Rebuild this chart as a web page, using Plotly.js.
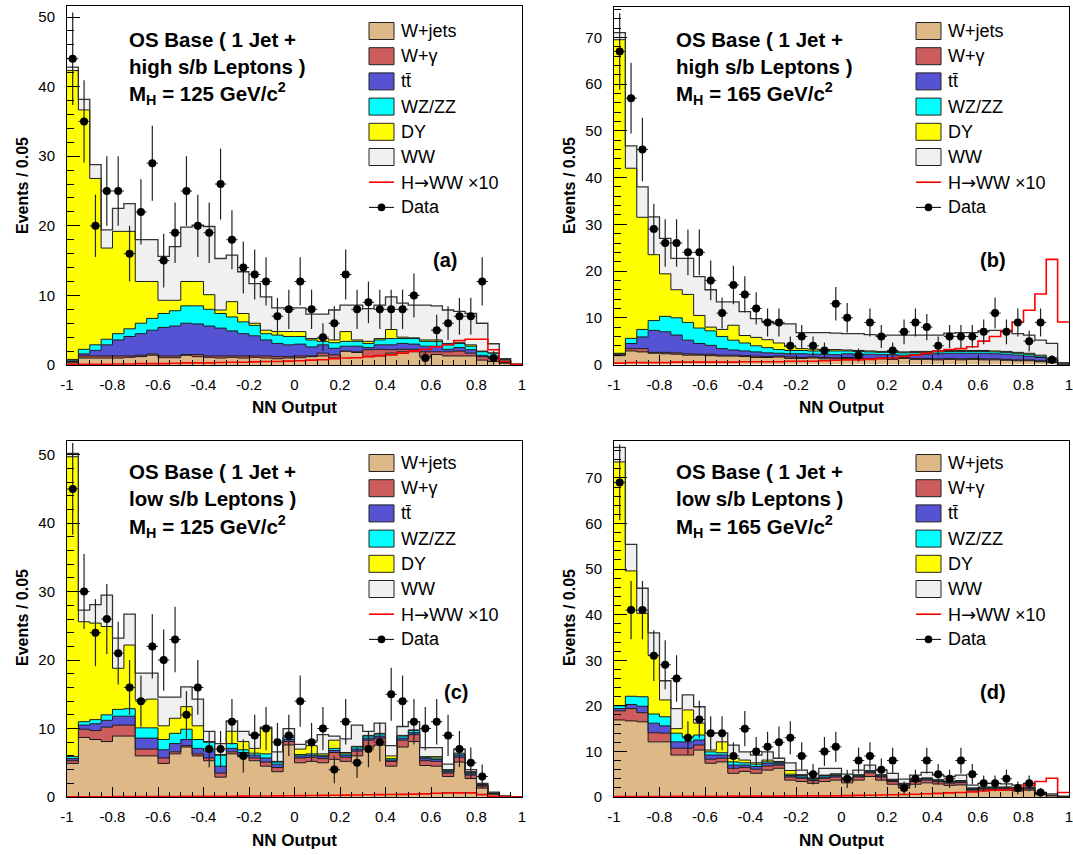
<!DOCTYPE html>
<html>
<head>
<meta charset="utf-8">
<script src="https://cdn.plot.ly/plotly-3.0.1.min.js"></script>
<style>
  html, body { margin: 0; padding: 0; background: #fff; }
  #chart { width: 1073px; height: 855px; }
</style>
</head>
<body>
<div id="chart"></div>
<script>
// NN output binning: 40 bins of width 0.05 on [-1, 1]
const nBins = 40;
const xLo = -1;
const binW = 0.05;

const xTickVals = [-1, -0.8, -0.6, -0.4, -0.2, 0, 0.2, 0.4, 0.6, 0.8, 1];
const xTickText = ['-1', '-0.8', '-0.6', '-0.4', '-0.2', '0', '0.2', '0.4', '0.6', '0.8', '1'];
const yTickVals50 = [0, 10, 20, 30, 40, 50];
const yTickVals70 = [0, 10, 20, 30, 40, 50, 60, 70];

const processNames = ['W+jets', 'W+\u03b3', 't<span>t\u0304</span>', 'WZ/ZZ', 'DY', 'WW'];
const processColors = ['#deb887', '#cd5c5c', '#5652d4', '#00ffff', '#ffff00', '#f0f0f0'];
const signalName = 'H<span style="font-family:DejaVu Sans">\u2192</span>WW \u00d710';
const dataName = 'Data';

// (a) 1 jet, high s/b leptons, MH = 125
const wjetsA  = [0.3,1.0,1.0,1.0,1.0,1.1,1.2,1.4,1.05,1.05, 1.4,1.2,1.1,1.0,1.1,1.0,1.1,1.0,0.9,1.0, 1.05,1.2,1.3,1.0,2.0,1.8,1.2,1.3,1.7,1.9, 1.9,1.2,1.5,1.3,1.3,1.3,0.7,0.5,0.25,0];
const wgammaA = [0.2,0.3,0.3,0.3,0.3,0.2,0.2,0.2,0.25,0.25, 0.1,0.3,0.2,0.3,0.2,0.3,0.2,0.3,0.3,0.2, 0.25,0.1,0.4,0.45,0,0.1,1.0,0.95,0.5,0.35, 0.35,0.7,0.4,0.6,0.7,0.4,0.5,0.5,0.1,0];
const ttbarA  = [0.1,0.3,0.8,1.6,2.3,2.8,3.1,3.4,4.1,4.3, 4.5,4.4,4.3,4.0,3.6,3.2,2.9,2.3,1.9,1.7, 1.7,1.3,1.2,0.95,0.7,0.8,0.3,0.65,0.7,0.85, 0.75,0.8,0.8,0.35,0.5,0.5,0.2,0.2,0.15,0];
const wzzzA   = [0.2,0.65,0.8,0.8,0.9,1.1,1.5,1.7,2.0,2.2, 2.5,2.6,2.4,2.1,2.0,1.7,1.5,0.9,1.2,1.2, 1.1,1.0,0.5,0.8,0.7,0.7,0.6,0.7,0.9,0.7, 0.8,0.7,0.7,0.65,0.6,0.5,0.5,0.5,0.2,0];
const dyA     = [41.5,34.4,23.9,13.1,14.7,14.0,6.0,5.3,1.9,1.5, 3.5,3.5,2.1,0.5,2.2,1.2,0.3,0.5,0.5,0.7, 0.7,0.2,0.4,0.4,1.4,0.2,0.3,0.2,1.3,0.2, 0.1,0.2,0.2,0.2,0.1,0.2,0.1,0.05,0.1,0];
const wwA     = [0.5,1.5,2.0,2.6,3.3,4.0,6.0,6.0,6.3,7.7, 7.8,8.1,9.8,7.4,6.7,6.0,5.7,4.8,3.4,3.4, 3.4,3.5,3.5,4.3,3.8,5.0,4.7,4.8,4.7,4.9, 4.7,5.0,4.9,4.8,4.5,4.5,4.0,1.3,0.1,0.15];
const signalA = [0.1,0.1,0.1,0.1,0.15,0.15,0.2,0.2,0.2,0.25, 0.3,0.3,0.3,0.35,0.4,0.4,0.45,0.5,0.5,0.55, 0.6,0.7,0.75,0.9,1.0,1.05,1.2,1.35,1.45,1.7, 2.0,2.25,2.6,2.9,3.5,3.7,3.7,2.2,0.5,0.05];
const dataA   = [44,35,20,25,25,16,22,29,15,19, 25,20,19,26,18,14,13,12,7,8, 12,8,4,6,13,8,9,8,8,8, 10,1,5,6,7,7,12,1,0,0];

// (b) 1 jet, high s/b leptons, MH = 165
const wjetsB  = [1.9,2.9,2.7,2.4,2.3,2.2,2.0,2.0,1.9,1.8, 1.8,1.7,1.5,1.5,1.6,1.3,1.3,1.4,1.2,1.2, 1.3,1.2,1.1,1.2,1.1,1.3,1.1,1.1,1.0,1.1, 1.0,1.1,1.0,1.0,0.9,0.8,0.8,0.6,0.4,0.05];
const wgammaB = [0.3,0.5,0.7,0.2,0.3,0.3,0.3,0.2,0.3,0.2, 0.2,0.2,0.3,0.2,0.2,0.3,0.2,0.2,0.3,0.2, 0.2,0.2,0.2,0.2,0.2,0.2,0.2,0.2,0.2,0.2, 0.2,0.2,0.2,0.2,0.2,0.2,0.2,0.2,0.1,0];
const ttbarB  = [0.1,1.1,2.5,4.7,4.4,3.8,2.9,2.3,1.9,1.4, 1.1,1.0,0.9,0.8,0.6,0.7,0.8,0.6,0.7,0.7, 0.8,0.8,0.9,0.7,0.8,0.5,0.9,0.9,1.1,1.1, 1.2,1.1,1.2,1.1,1.1,1.0,0.8,0.7,0.5,0.05];
const wzzzB   = [0.1,1.1,1.6,2.1,3.3,3.7,3.8,3.3,3.1,2.6, 2.1,1.7,1.3,1.1,0.8,0.7,0.7,0.7,0.7,0.8, 0.6,0.6,0.5,0.5,0.5,0.5,0.4,0.4,0.4,0.4, 0.4,0.4,0.4,0.4,0.4,0.4,0.4,0.3,0.2,0];
const dyB     = [67.1,36.4,24.0,14.1,9.1,6.0,6.0,2.7,0.8,1.5, 3.2,1.6,1.8,1.7,1.4,0.8,0.4,0.4,0.3,0.3, 0.2,0.2,0.2,0.2,0.2,0.2,0.2,0.2,0.2,0.2, 0.2,0.2,0.2,0.2,0.2,0.2,0.2,0.2,0.2,0.05];
const wwB     = [1.5,4.8,6.5,8.1,7.6,6.7,7.7,8.3,8.0,5.9, 5.0,5.1,4.0,3.9,4.1,4.9,3.4,3.5,3.6,3.5, 3.5,3.6,3.5,3.5,3.5,3.6,3.5,3.5,3.4,3.7, 3.8,3.8,4.2,4.4,4.5,4.0,3.9,3.2,3.1,0.25];
const signalB = [0.3,0.4,0.4,0.4,0.4,0.5,0.5,0.5,0.5,0.5, 0.5,0.6,0.6,0.6,0.6,0.7,0.7,0.7,0.8,0.9, 1.0,1.0,1.1,1.3,1.4,1.7,2.0,2.4,2.9,3.2, 3.4,3.8,5.0,6.0,7.2,9.1,11.6,15.1,22.5,9.1];
const dataB   = [67,57,46,29,26,26,24,24,18,11, 17,15,12,9,9,4,6,4,3,13, 10,2,9,6,3,7,9,8,4,6, 6,6,7,11,7,9,5,9,1,0];

// (c) 1 jet, low s/b leptons, MH = 125
const wjetsC  = [4.9,8.7,8.4,8.1,8.9,8.9,6.0,6.0,4.9,6.3, 7.3,6.0,5.3,2.9,6.3,5.9,5.3,4.5,3.7,7.6, 5.0,5.2,5.0,5.5,5.2,6.0,7.3,7.6,4.5,7.3, 8.1,4.6,4.5,3.0,5.1,2.7,1.3,0.4,0,0];
const wgammaC = [0.4,1.2,1.3,2.1,1.6,1.6,1.0,1.0,0.8,0.3, 0.2,0.3,0.4,0.6,0.3,0.2,0.4,0.6,0.6,0.5, 0.7,0.6,0.6,1.0,0.6,0.7,1.0,1.0,0.7,1.0, 1.0,0.7,0.7,0.5,0.7,0.5,0.3,0.1,0.05,0];
const ttbarC  = [0.3,0.6,1.0,1.0,1.3,1.3,1.6,1.6,1.2,1.2, 0.9,0.8,1.0,1.0,0.5,0.4,0.4,0.6,0.5,0.3, 0.3,0.3,0.3,0.3,0.3,0.3,0.3,0.3,0.2,0.3, 0.3,0.3,0.3,0.2,0.3,0.2,0.1,0.05,0.02,0];
const wzzzC   = [0.3,0.5,0.6,0.8,1.0,1.1,1.5,1.5,1.5,1.5, 1.5,1.3,1.3,1.6,0.7,0.4,0.3,0.6,0.3,0.3, 0.2,0.2,0.2,0.3,0.2,0.3,0.3,0.3,0.2,0.3, 0.3,0.2,0.2,0.2,0.2,0.2,0.1,0.05,0.02,0];
const dyC     = [43.8,14.6,14.1,12.9,6.0,9.3,4.1,4.2,2.0,2.2, 3.3,2.0,0.1,0.1,1.8,1.2,0.7,3.8,0.1,0.1, 0.8,1.2,0.2,1.2,0.2,0.1,0.1,0.1,0.4,0.1, 0.1,0.1,0.2,0.1,0.1,0.1,0.05,0,0,0];
const wwC     = [0.5,1.7,2.7,4.6,4.4,4.5,3.9,3.8,4.2,3.1, 2.9,3.9,1.5,1.6,1.5,1.5,2.0,0.1,1.4,1.2, 0.7,0.7,2.8,0.6,2.0,3.1,0.6,1.5,1.5,1.3, 1.2,1.3,1.3,0.8,0.6,0.3,0.15,0.1,0.06,0];
const signalC = [0.03,0.03,0.04,0.04,0.05,0.05,0.06,0.06,0.07,0.08, 0.09,0.1,0.1,0.11,0.12,0.13,0.14,0.15,0.16,0.18, 0.2,0.22,0.24,0.26,0.28,0.3,0.32,0.34,0.36,0.38, 0.42,0.45,0.55,0.6,0.6,0.6,0.35,0.1,0.02,0];
const dataC   = [45,30,24,26,21,16,14,22,20,23, 12,16,7,7,11,6,9,10,8,9, 14,8,10,4,11,5,7,8,15,14, 11,10,11,9,7,5,3,0,0,0];

// (d) 1 jet, low s/b leptons, MH = 165
const wjetsD  = [16.9,16.7,16.5,12.1,12.1,9.2,9.2,10.3,7.4,7.7, 5.2,5.6,5.2,5.9,6.3,3.7,3.4,3.0,3.4,3.7, 3.1,3.7,4.5,3.7,2.8,2.0,2.8,3.1,2.85,2.55, 2.65,1.3,1.5,1.5,1.5,1.3,1.5,0.53,0.26,0.05];
const wgammaD = [2.0,2.7,2.0,2.0,1.9,1.5,1.5,1.1,0.9,0.8, 1.1,0.9,0.9,0.9,0.7,0.7,0.7,0.6,0.7,0.7, 0.6,0.7,0.8,0.7,0.6,0.5,0.6,0.6,0.5,0.5, 0.5,0.3,0.3,0.3,0.3,0.3,0.3,0.1,0.05,0.02];
const ttbarD  = [0.5,0.9,1.4,2.1,1.6,1.4,1.4,1.1,0.9,0.7, 0.7,0.5,0.6,0.6,0.3,0.3,0.3,0.3,0.3,0.3, 0.2,0.2,0.2,0.2,0.2,0.2,0.2,0.2,0.2,0.2, 0.2,0.2,0.2,0.2,0.2,0.2,0.2,0.1,0.05,0.02];
const wzzzD   = [0.6,1.8,2.1,2.0,2.0,1.9,1.1,1.1,0.7,0.5, 0.7,0.5,0.5,0.3,0.3,0.3,0.3,0.2,0.3,0.3, 0.2,0.2,0.2,0.2,0.2,0.2,0.2,0.2,0.2,0.2, 0.2,0.15,0.15,0.15,0.15,0.15,0.15,0.05,0.03,0.01];
const dyD     = [53.5,27.5,18.3,12.9,3.7,1.0,5.9,2.6,0.4,2.4, 0.8,0.6,0.3,0.4,0.2,0.8,0.2,0.1,0.1,0.1, 0.1,0.1,0.1,0.1,0.1,0.1,0.1,0.1,0.05,0.05, 0.05,0.05,0.05,0.05,0.05,0.05,0.05,0.02,0.01,0];
const wwD     = [3.2,5.8,5.5,4.9,4.2,4.4,3.3,3.6,3.7,1.9, 2.9,1.8,1.7,1.8,0.7,1.7,1.0,1.0,1.5,1.2, 0.8,1.0,1.2,1.0,1.3,0.9,0.9,1.2,1.0,1.0, 1.2,0.6,0.8,0.8,0.7,0.6,0.8,0.2,0.3,0.1];
const signalD = [0.1,0.1,0.1,0.1,0.1,0.15,0.15,0.15,0.15,0.15, 0.2,0.2,0.2,0.2,0.2,0.25,0.25,0.25,0.25,0.25, 0.3,0.35,0.4,0.45,0.5,0.55,0.6,0.7,0.8,0.9, 1.0,1.1,1.3,1.5,1.6,1.9,2.6,3.4,4.1,1.0];
const dataD   = [69,41,41,31,29,26,13,17,14,14, 9,15,10,11,12,13,9,5,10,11, 4,8,9,6,8,2,4,8,5,4, 8,5,3,3,4,2,3,1,0,0];

// ---------------------------------------------------------------------------
const W = 1073, H = 855;
const FONT = 'Liberation Sans, Arial, Helvetica, sans-serif';
const px = v => v / W;          // pixel column -> paper x
const py = v => 1 - v / H;      // pixel row -> paper y

const panels = [
  { tag: '(a)', tagX: 445, sub: 'high s/b Leptons )', mass: '125',
    comps: [wjetsA, wgammaA, ttbarA, wzzzA, dyA, wwA], signal: signalA, data: dataA,
    left: 67, right: 522, top: 6, bottom: 365, yMax: 51.58, yTicks: yTickVals50, dx: 0, dy: 0 },
  { tag: '(b)', tagX: 993, sub: 'high s/b Leptons )', mass: '165',
    comps: [wjetsB, wgammaB, ttbarB, wzzzB, dyB, wwB], signal: signalB, data: dataB,
    left: 614, right: 1069, top: 7, bottom: 364.5, yMax: 76.5, yTicks: yTickVals70, dx: 547, dy: 0 },
  { tag: '(c)', tagX: 456, sub: 'low s/b Leptons )', mass: '125',
    comps: [wjetsC, wgammaC, ttbarC, wzzzC, dyC, wwC], signal: signalC, data: dataC,
    left: 67, right: 522, top: 441, bottom: 797, yMax: 52.0, yTicks: yTickVals50, dx: 0, dy: 432 },
  { tag: '(d)', tagX: 993, sub: 'low s/b Leptons )', mass: '165',
    comps: [wjetsD, wgammaD, ttbarD, wzzzD, dyD, wwD], signal: signalD, data: dataD,
    left: 614, right: 1069, top: 441, bottom: 797, yMax: 78.1, yTicks: yTickVals70, dx: 547, dy: 432 }
];

const edges = Array.from({ length: nBins + 1 }, (_, i) => +(xLo + i * binW).toFixed(4));
const centers = Array.from({ length: nBins }, (_, i) => +(xLo + (i + 0.5) * binW).toFixed(4));
const stepY = v => v.concat([v[v.length - 1]]);

const traces = [];
const layout = {
  width: W, height: H,
  margin: { l: 0, r: 0, t: 0, b: 0 },
  paper_bgcolor: '#fff', plot_bgcolor: '#fff',
  showlegend: false,
  font: { family: FONT, color: '#000' },
  annotations: [], shapes: []
};

panels.forEach((p, idx) => {
  const n = idx + 1;
  const xa = n === 1 ? 'x' : 'x' + n;
  const ya = n === 1 ? 'y' : 'y' + n;

  // stacked backgrounds, filled layer by layer, each outlined with a step line
  let run = new Array(nBins).fill(0);
  p.comps.forEach((comp, k) => {
    run = run.map((v, i) => v + comp[i]);
    traces.push({
      type: 'scatter', mode: 'lines', xaxis: xa, yaxis: ya,
      x: edges, y: stepY(run),
      line: { shape: 'hv', color: k === 5 ? '#333' : '#1a1a1a', width: k === 5 ? 1.3 : 1 },
      fill: k === 0 ? 'tozeroy' : 'tonexty', fillcolor: processColors[k],
      hoverinfo: 'skip'
    });
  });

  // Higgs signal (x10)
  traces.push({
    type: 'scatter', mode: 'lines', xaxis: xa, yaxis: ya,
    x: edges, y: stepY(p.signal),
    line: { shape: 'hv', color: '#ff0000', width: 1.6 },
    hoverinfo: 'skip'
  });

  // observed events with Poisson errors
  const keep = p.data.map((v, i) => i).filter(i => p.data[i] > 0);
  traces.push({
    type: 'scatter', mode: 'markers', xaxis: xa, yaxis: ya,
    x: keep.map(i => centers[i]), y: keep.map(i => p.data[i]),
    marker: { color: '#000', size: 8 },
    error_y: { type: 'data', array: keep.map(i => Math.sqrt(p.data[i])), color: '#222', thickness: 1.2, width: 0 },
    error_x: { type: 'constant', value: binW / 2, color: '#222', thickness: 1, width: 0 },
    hoverinfo: 'skip'
  });

  layout[n === 1 ? 'xaxis' : 'xaxis' + n] = {
    domain: [px(p.left), px(p.right)], anchor: ya,
    range: [xLo, xLo + nBins * binW],
    tickmode: 'array', tickvals: xTickVals, ticktext: xTickText,
    ticks: 'inside', ticklen: 10, tickwidth: 1, tickcolor: '#000',
    minor: { tickmode: 'linear', tick0: xLo, dtick: binW, ticks: 'inside', ticklen: 5, tickwidth: 1, tickcolor: '#000' },
    showline: true, mirror: true, linecolor: '#000', linewidth: 1,
    showgrid: false, zeroline: false, fixedrange: true,
    tickfont: { family: FONT, size: 15, color: '#000' },
    ticklabelstandoff: 6, ticklabeloverflow: 'allow'
  };
  layout[n === 1 ? 'yaxis' : 'yaxis' + n] = {
    domain: [py(p.bottom), py(p.top)], anchor: xa,
    range: [0, p.yMax],
    tickmode: 'array', tickvals: p.yTicks, ticktext: p.yTicks.map(String),
    ticks: 'inside', ticklen: 13, tickwidth: 1, tickcolor: '#000',
    minor: { tickmode: 'linear', tick0: 0, dtick: 2, ticks: 'inside', ticklen: 7, tickwidth: 1, tickcolor: '#000' },
    showline: true, mirror: true, linecolor: '#000', linewidth: 1,
    showgrid: false, zeroline: false, fixedrange: true,
    tickfont: { family: FONT, size: 15, color: '#000' },
    ticklabelstandoff: 8, ticklabeloverflow: 'allow'
  };

  const A = layout.annotations, S = layout.shapes;
  const txt = (x, y, text, opts) => A.push(Object.assign({
    xref: 'paper', yref: 'paper', x: px(x), y: py(y), text: text, showarrow: false,
    xanchor: 'left', yanchor: 'middle', font: { family: FONT, size: 18, color: '#000' }
  }, opts || {}));

  // channel description
  const bold20 = { font: { family: FONT, size: 20.5, color: '#000' } };
  txt(127 + p.dx, 39 + p.dy, '<b>OS Base ( 1 Jet +</b>', bold20);
  txt(127 + p.dx, 66 + p.dy, '<b>' + p.sub + '</b>', bold20);
  txt(127 + p.dx, 94 + p.dy, '<b>M<sub>H</sub> = ' + p.mass + ' GeV/c<sup>2</sup></b>', bold20);
  txt(p.tagX, 260 + p.dy, '<b>' + p.tag + '</b>', { xanchor: 'center', font: { family: FONT, size: 20, color: '#000' } });

  // axis titles
  txt(294.5 + p.dx, 408 + p.dy, '<b>NN Output</b>', { xanchor: 'center', font: { family: FONT, size: 17, color: '#000' } });
  txt(22 + p.dx, 186 + p.dy, '<b>Events / 0.05</b>', { xanchor: 'center', textangle: -90, font: { family: FONT, size: 16, color: '#000' } });

  // legend
  const bx0 = 369 + p.dx, bx1 = 394 + p.dx;
  const rowY = k => 31 + 25.2 * k + p.dy;
  processNames.forEach((name, k) => {
    S.push({ type: 'rect', xref: 'paper', yref: 'paper',
      x0: px(bx0), x1: px(bx1), y0: py(rowY(k) + 8.5), y1: py(rowY(k) - 8.5),
      fillcolor: processColors[k], line: { color: '#222', width: 1 } });
    txt(399 + p.dx, rowY(k), name);
  });
  S.push({ type: 'line', xref: 'paper', yref: 'paper',
    x0: px(bx0), x1: px(bx1), y0: py(rowY(6)), y1: py(rowY(6)),
    line: { color: '#ff0000', width: 1.6 } });
  txt(399 + p.dx, rowY(6), signalName);
  S.push({ type: 'line', xref: 'paper', yref: 'paper',
    x0: px(bx0), x1: px(bx1), y0: py(rowY(7)), y1: py(rowY(7)),
    line: { color: '#000', width: 1 } });
  const cx = (bx0 + bx1) / 2, cy = rowY(7), r = 3.8;
  S.push({ type: 'circle', xref: 'paper', yref: 'paper',
    x0: px(cx - r), x1: px(cx + r), y0: py(cy + r), y1: py(cy - r),
    fillcolor: '#000', line: { color: '#000', width: 0 } });
  txt(399 + p.dx, rowY(7), dataName);
});

Plotly.newPlot('chart', traces, layout, { staticPlot: true, displayModeBar: false });
</script>
</body>
</html>
